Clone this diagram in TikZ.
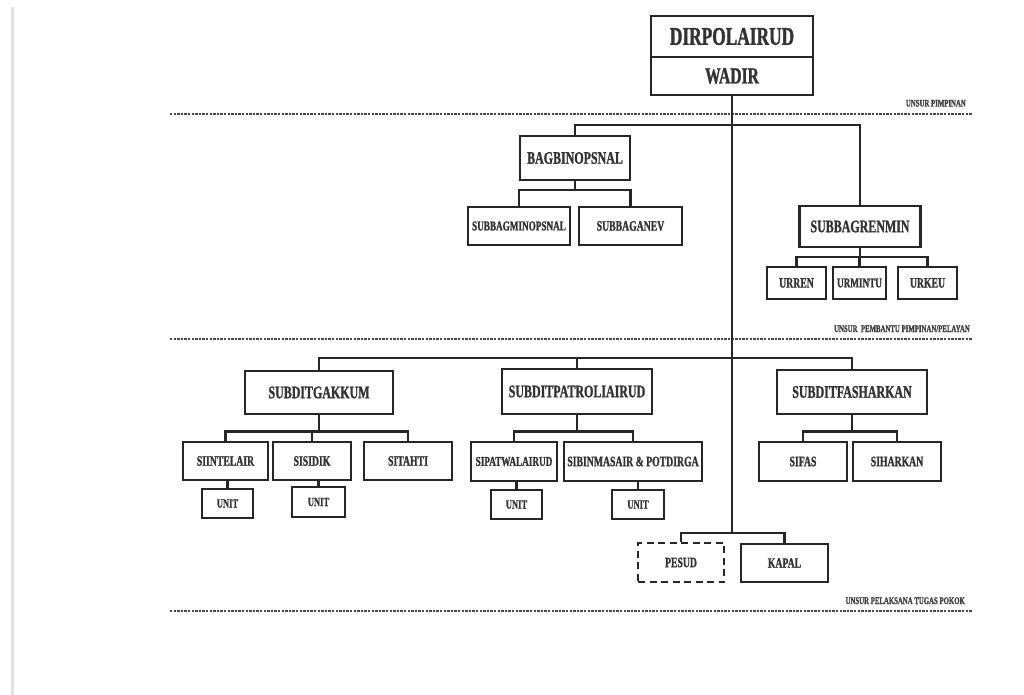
\documentclass[tikz,border=0pt]{standalone}
\usepackage{fontspec}
\setmainfont{Liberation Serif}[FakeStretch=0.68,BoldFeatures={FakeBold=1.2}]
\begin{document}
\begin{tikzpicture}[x=1pt,y=-1pt,
  box/.style={draw=black!85,line width=2.5pt,fill=white,inner sep=0pt,font=\bfseries,text=black!80},
  con/.style={draw=black!85,line width=2.2pt},
  sep/.style={draw=black!72,line width=2pt,dash pattern=on 2.4pt off 1.2pt},
  lab/.style={font=\bfseries\fontsize{10}{11}\selectfont,text=black!75,inner sep=0pt,anchor=base east},
  fXL/.style={font=\bfseries\fontsize{25.5}{27}\selectfont},
  fWA/.style={font=\bfseries\fontsize{23}{24}\selectfont},
  fL/.style={font=\bfseries\fontsize{17.6}{18}\selectfont},
  fM/.style={font=\bfseries\fontsize{14.3}{15}\selectfont},
  fN/.style={font=\bfseries\fontsize{13.5}{14}\selectfont},
  fU/.style={font=\bfseries\fontsize{12.5}{13}\selectfont}]
\useasboundingbox (0,0) rectangle (1024,695);
\fill[white] (0,0) rectangle (1024,695);
\draw[black!12,line width=3pt] (12,7) -- (12,695);

% separators
\coordinate (s1a) at (170,114); \coordinate (s1b) at (972,114);
\coordinate (s2a) at (170,339); \coordinate (s2b) at (972,339);
\coordinate (s3a) at (170,611); \coordinate (s3b) at (972,611);
\draw[sep] (s1a) -- (s1b);
\draw[sep] (s2a) -- (s2b);
\draw[sep] (s3a) -- (s3b);
\node[lab] (l1) at (966,106.5) {UNSUR PIMPINAN};
\node[lab] (l2) at (970,332) {UNSUR\ \ PEMBANTU PIMPINAN/PELAYAN};
\node[lab] (l3) at (965,604) {UNSUR PELAKSANA TUGAS POKOK};

% bus coordinates
\coordinate (b0) at (0,125);
\coordinate (b1) at (0,190);
\coordinate (b2) at (0,257);
\coordinate (b3) at (0,358);
\coordinate (b4) at (0,431.5);
\coordinate (b5) at (0,533);

% nodes
\node[box,fXL,minimum width=162,minimum height=41] (dir) at (732,36.5) {DIRPOLAIRUD};
\node[box,fWA,minimum width=162,minimum height=38] (wadir) at (732,76) {WADIR};

\node[box,fL,minimum width=110,minimum height=44] (bag) at (575,158) {BAGBINOPSNAL};
\node[box,fN,minimum width=102,minimum height=38] (sbm) at (519,226) {SUBBAGMINOPSNAL};
\node[box,fM,minimum width=103,minimum height=38] (sba) at (630.5,226) {SUBBAGANEV};

\node[box,fL,minimum width=121,minimum height=41] (ren) at (860,226.5) {SUBBAGRENMIN};
\node[box,fM,minimum width=59,minimum height=32] (urr) at (796.5,283) {URREN};
\node[box,fN,minimum width=53,minimum height=32] (urm) at (859.5,283) {URMINTU};
\node[box,fM,minimum width=59,minimum height=32] (urk) at (927.5,283) {URKEU};

\node[box,fL,minimum width=148,minimum height=43] (gak) at (319,392.5) {SUBDITGAKKUM};
\node[box,fM,minimum width=85,minimum height=38] (sii) at (225.5,461) {SIINTELAIR};
\node[box,fM,minimum width=78,minimum height=38] (sis) at (312,461) {SISIDIK};
\node[box,fM,minimum width=88,minimum height=38] (sit) at (408,461) {SITAHTI};
\node[box,fU,minimum width=51,minimum height=29] (u1) at (227.5,503.5) {UNIT};
\node[box,fU,minimum width=53,minimum height=30] (u2) at (318.5,502) {UNIT};

\node[box,fL,minimum width=150,minimum height=45] (pat) at (577,391.5) {SUBDITPATROLIAIRUD};
\node[box,fN,minimum width=86,minimum height=39] (spw) at (514,461.5) {SIPATWALAIRUD};
\node[box,fM,minimum width=138,minimum height=39] (sbn) at (633,461.5) {SIBINMASAIR \& POTDIRGA};
\node[box,fU,minimum width=51,minimum height=29] (u3) at (516.5,504.5) {UNIT};
\node[box,fU,minimum width=52,minimum height=29] (u4) at (638,504.5) {UNIT};

\node[box,fL,minimum width=150,minimum height=44] (fas) at (852,392) {SUBDITFASHARKAN};
\node[box,fM,minimum width=88,minimum height=39] (sif) at (803,461.5) {SIFAS};
\node[box,fM,minimum width=88,minimum height=39] (sih) at (897,461.5) {SIHARKAN};

\node[box,fM,dash pattern=on 7pt off 4.5pt,minimum width=86,minimum height=39] (pes) at (681,562.5) {PESUD};
\node[box,fM,minimum width=87,minimum height=38] (kap) at (784.5,563) {KAPAL};

% connectors
\draw[con] (wadir.south) -- (wadir.south |- b5);
\draw[con] (bag.north) -- (bag.north |- b0) -- (ren.north |- b0) -- (ren.north);
\draw[con] (sbm.north) -- (sbm.north |- b1) -- (sba.north |- b1) -- (sba.north);
\draw[con] (bag.south) -- (bag.south |- b1);
\draw[con] (urr.north) -- (urr.north |- b2) -- (urk.north |- b2) -- (urk.north);
\draw[con] (ren.south) -- (ren.south |- b2);
\draw[con] (urm.north) -- (urm.north |- b2);

\draw[con] (gak.north) -- (gak.north |- b3) -- (fas.north |- b3) -- (fas.north);
\draw[con] (pat.north) -- (pat.north |- b3);

\draw[con] (sii.north) -- (sii.north |- b4) -- (sit.north |- b4) -- (sit.north);
\draw[con] (gak.south) -- (gak.south |- b4);
\draw[con] (sis.north) -- (sis.north |- b4);
\draw[con] (sii.south -| u1.north) -- (u1.north);
\draw[con] (sis.south -| u2.north) -- (u2.north);

\draw[con] (spw.north) -- (spw.north |- b4) -- (sbn.north |- b4) -- (sbn.north);
\draw[con] (pat.south) -- (pat.south |- b4);
\draw[con] (spw.south -| u3.north) -- (u3.north);
\draw[con] (sbn.south -| u4.north) -- (u4.north);

\draw[con] (sif.north) -- (sif.north |- b4) -- (sih.north |- b4) -- (sih.north);
\draw[con] (fas.south) -- (fas.south |- b4);

\draw[con] (pes.north) -- (pes.north |- b5) -- (kap.north |- b5) -- (kap.north);
\end{tikzpicture}
\end{document}
